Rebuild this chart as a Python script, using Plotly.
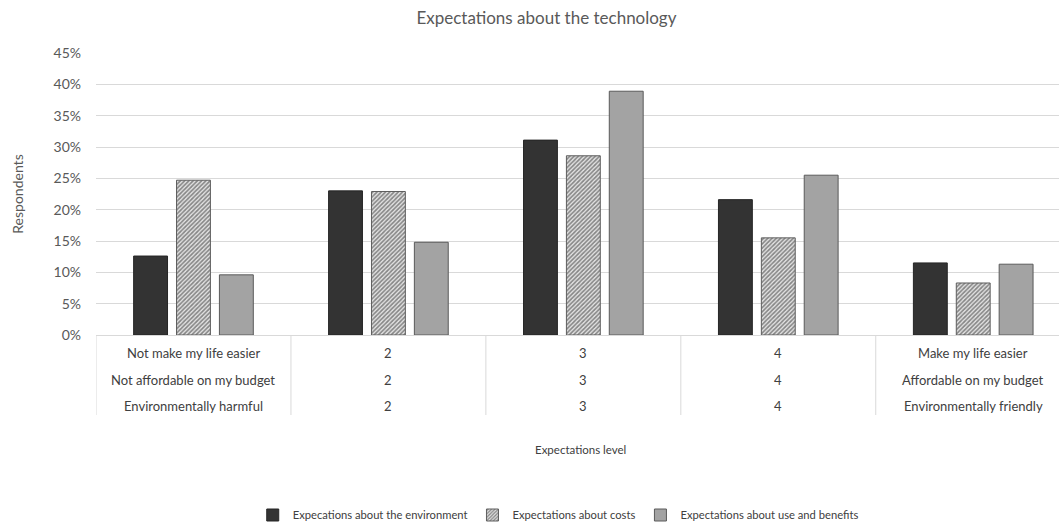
import plotly.graph_objects as go

categories = ["1", "2", "3", "4", "5"]
row_use = ["Not make my life easier", "2", "3", "4", "Make my life easier"]
row_costs = ["Not affordable on my budget", "2", "3", "4", "Affordable on my budget"]
row_env = ["Environmentally harmful", "2", "3", "4", "Environmentally friendly"]

env = [0.126, 0.230, 0.311, 0.216, 0.115]
costs = [0.247, 0.229, 0.286, 0.155, 0.083]
use = [0.096, 0.148, 0.389, 0.255, 0.113]

series_names = ["Expecations about the environment", "Expectations about costs",
                "Expectations about use and benefits"]
y_ticks = [0, 0.05, 0.10, 0.15, 0.20, 0.25, 0.30, 0.35, 0.40, 0.45]

FONT = "Lato, Open Sans, sans-serif"
TXT = "#595959"

fig = go.Figure()
fig.add_trace(go.Bar(x=categories, y=env, name=series_names[0],
                     marker=dict(color="#333333", line=dict(color="#262626", width=1))))
fig.add_trace(go.Bar(x=categories, y=costs, name=series_names[1],
                     marker=dict(color="#ffffff", line=dict(color="#5e5e5e", width=1),
                                 pattern=dict(shape="/", fgcolor="#262626", bgcolor="#e6e6e6",
                                              size=3, solidity=0.55))))
fig.add_trace(go.Bar(x=categories, y=use, name=series_names[2],
                     marker=dict(color="#a3a3a3", line=dict(color="#5a5a5a", width=1))))

plot_h = 523 - 53 - 188
annotations = []
shapes = []
rows = [row_use, row_costs, row_env]
row_px = [18, 45, 71]
for r, labels in enumerate(rows):
    for i, lab in enumerate(labels):
        annotations.append(dict(
            x=i, y=-row_px[r] / plot_h, xref="x", yref="paper",
            text=lab, showarrow=False, yanchor="middle", xanchor="center",
            font=dict(family=FONT, size=13, color="#404040")))
for i in range(len(categories)):
    shapes.append(dict(type="line", xref="x", yref="paper",
                       x0=i - 0.5, x1=i - 0.5, y0=0, y1=-80 / plot_h,
                       line=dict(color="#d9d9d9", width=1)))

annotations.append(dict(x=0.503, y=-(458 - 335) / plot_h, xref="paper", yref="paper",
                        text="Expectations level", showarrow=False,
                        font=dict(family=FONT, size=11.5, color="#404040")))

fig.update_layout(
    width=1059, height=523,
    margin=dict(l=96, r=0, t=53, b=188, autoexpand=False),
    paper_bgcolor="white", plot_bgcolor="white",
    title=dict(text="Expectations about the technology", x=0.516, xanchor="center",
               y=1 - 18 / 523, yanchor="middle",
               font=dict(family=FONT, size=17, color=TXT)),
    barmode="group", bargap=0.34, bargroupgap=0.21,
    font=dict(family=FONT, color=TXT),
    xaxis=dict(type="category", range=[-0.5, 4.44], showticklabels=False,
               showline=True, linecolor="#d9d9d9", linewidth=1,
               showgrid=False, ticks=""),
    yaxis=dict(range=[0, 0.45], tickvals=y_ticks, tickformat=".0%",
               showgrid=True, gridcolor="#d9d9d9", gridwidth=1,
               zeroline=False, showline=False, ticks="", ticklen=0,
               ticklabelstandoff=14,
               tickfont=dict(family=FONT, size=14, color=TXT),
               title=dict(text="Respondents", standoff=26,
                          font=dict(family=FONT, size=14, color=TXT))),
    showlegend=True,
    legend=dict(orientation="h", x=0.48, xanchor="center", y=-(515 - 335) / plot_h,
                yanchor="middle", font=dict(family=FONT, size=11.2, color="#404040"),
                itemwidth=30, traceorder="normal"),
    annotations=annotations, shapes=shapes,
)

fig.write_html("out.html")
